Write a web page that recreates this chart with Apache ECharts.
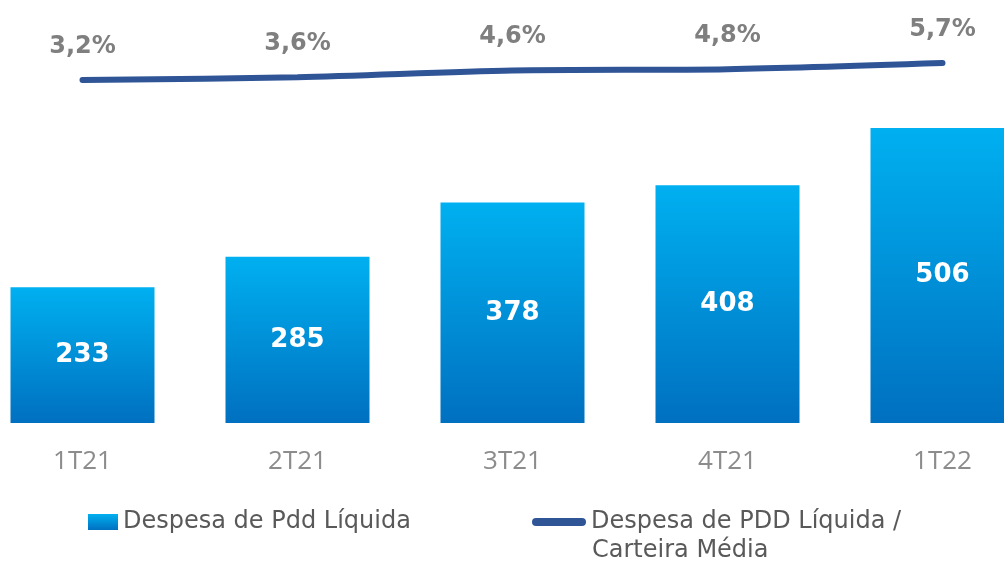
<!DOCTYPE html>
<html lang="pt">
<head>
    <meta charset="UTF-8">
    <title>Despesa de PDD</title>
    <script src="https://cdn.jsdelivr.net/npm/echarts@6/dist/echarts.min.js"></script>
    <style>
        body, html { padding: 0; margin: 0; background: #fff; }
        #chart { width: 1004px; height: 563px; }
    </style>
</head>
<body>
    <div id="chart"></div>
    <script>
        var categories = ['1T21', '2T21', '3T21', '4T21', '1T22'];
        var pddValues = [233, 285, 378, 408, 506];
        var ratioValues = [3.2, 3.6, 4.6, 4.8, 5.7];
        var barName = 'Despesa de Pdd Líquida';
        var lineName = 'Despesa de PDD Líquida / Carteira Média';

        var myChart = echarts.init(document.getElementById('chart'));

        var barColor = new echarts.graphic.LinearGradient(0, 0, 0, 1, [
            { offset: 0, color: '#00b0f0' },
            { offset: 1, color: '#0070c0' }
        ]);
        var legendText = { fontFamily: 'DejaVu Sans', fontSize: 24, color: '#595959' };

        myChart.setOption({
            animation: false,
            grid: [
                { left: -25, right: -46, top: 128, height: 295, outerBoundsMode: 'none' },   // barras
                { left: -25, right: -46, top: 61, height: 20.4, outerBoundsMode: 'none' }    // linha
            ],
            xAxis: [{
                type: 'category',
                gridIndex: 0,
                data: categories,
                axisLine: { show: false },
                axisTick: { show: false },
                axisLabel: {
                    margin: 26,
                    fontFamily: 'Open Sans',
                    fontSize: 26,
                    color: '#8c8c8c'
                }
            }, {
                type: 'category',
                gridIndex: 1,
                data: categories,
                show: false
            }],
            yAxis: [{
                type: 'value',
                gridIndex: 0,
                min: 0,
                max: 506,
                show: false,
                splitLine: { show: false }
            }, {
                type: 'value',
                gridIndex: 1,
                min: 3,
                max: 6,
                show: false,
                splitLine: { show: false }
            }],
            legend: [{
                data: [barName],
                left: 83,
                top: 505,
                itemWidth: 30,
                itemHeight: 16,
                icon: 'rect',
                textStyle: legendText
            }, {
                data: [lineName],
                left: 527,
                top: 505,
                itemWidth: 54,
                itemHeight: 8,
                icon: 'path://M4,0 H50 A4,4 0 0 1 50,8 H4 A4,4 0 0 1 4,0 Z',
                formatter: function () { return 'Despesa de PDD Líquida /'; },
                textStyle: legendText
            }],
            graphic: [{
                type: 'text',
                left: 592,
                top: 539,
                style: {
                    text: 'Carteira Média',
                    fontFamily: 'DejaVu Sans',
                    fontSize: 24,
                    fill: '#595959'
                }
            }],
            series: [{
                name: barName,
                type: 'bar',
                xAxisIndex: 0,
                yAxisIndex: 0,
                data: pddValues,
                barWidth: 144,
                itemStyle: { color: barColor },
                label: {
                    show: true,
                    position: 'inside',
                    fontFamily: 'DejaVu Sans',
                    fontWeight: 'bold',
                    fontSize: 26,
                    color: '#ffffff'
                }
            }, {
                name: lineName,
                type: 'line',
                xAxisIndex: 1,
                yAxisIndex: 1,
                data: ratioValues,
                smooth: 0.3,
                symbol: 'circle',
                symbolSize: 1,
                showSymbol: true,
                lineStyle: { color: '#2f5597', width: 6, cap: 'round' },
                itemStyle: { color: '#2f5597' },
                label: {
                    show: true,
                    position: 'top',
                    distance: 21,
                    fontFamily: 'DejaVu Sans',
                    fontWeight: 'bold',
                    fontSize: 24,
                    color: '#7f7f7f',
                    formatter: function (p) {
                        return p.value.toFixed(1).replace('.', ',') + '%';
                    }
                }
            }]
        });
    </script>
</body>
</html>
